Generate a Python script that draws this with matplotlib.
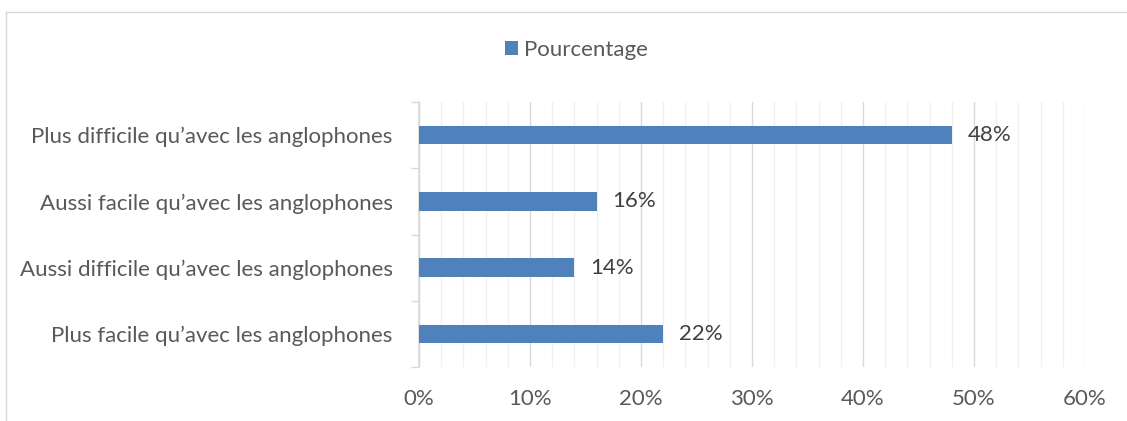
import numpy as np
import matplotlib.pyplot as plt
from matplotlib.lines import Line2D
from matplotlib.ticker import FixedLocator, FuncFormatter

plt.rcParams['font.family'] = ['Lato', 'DejaVu Sans']

categories = ["Plus facile qu\u2019avec les anglophones",
              "Aussi difficile qu\u2019avec les anglophones",
              "Aussi facile qu\u2019avec les anglophones",
              "Plus difficile qu\u2019avec les anglophones"]
pourcentage = [22, 14, 16, 48]
series_name = "Pourcentage"

bar_color = "#4f81bd"
text_color = "#595959"

W, H = 1127, 421
fig = plt.figure(figsize=(W / 100, H / 100), dpi=100)
ax = fig.add_axes([419 / W, 1 - 367 / H, (1085 - 419) / W, (367 - 102) / H])

y = np.arange(len(categories))
bars = ax.barh(y, pourcentage, height=0.28, color=bar_color, zorder=3,
               label=series_name)

# data labels
for yi, v in zip(y, pourcentage):
    ax.text(v + 1.4, yi, f"{v}%", va="center", ha="left",
            fontsize=16, color="#404040")

ax.set_xlim(0, 60)
ax.set_ylim(-0.5, len(categories) - 0.5)

# major and minor vertical gridlines
ax.xaxis.set_major_locator(FixedLocator(np.arange(0, 61, 10)))
ax.xaxis.set_minor_locator(FixedLocator(np.arange(0, 61, 2)))
ax.xaxis.set_major_formatter(FuncFormatter(lambda v, p: f"{v:.0f}%"))
ax.grid(axis="x", which="minor", color="#f0f0f0", lw=1.0, zorder=0)
ax.grid(axis="x", which="major", color="#d9d9d9", lw=1.0, zorder=1)

ax.set_yticks(y)
ax.set_yticklabels(categories)
ax.yaxis.set_minor_locator(FixedLocator(np.arange(-0.5, len(categories), 1)))
ax.tick_params(axis="y", which="major", length=0, pad=19, labelsize=16,
               labelcolor=text_color)
ax.tick_params(axis="y", which="minor", length=6, width=1, color="#d9d9d9")
ax.tick_params(axis="x", which="both", length=0, pad=16, labelsize=16,
               labelcolor=text_color)

for side in ["top", "right", "bottom"]:
    ax.spines[side].set_visible(False)
ax.spines["left"].set_color("#d9d9d9")
ax.spines["left"].set_linewidth(1.2)

leg = fig.legend(handles=[bars], labels=[series_name], loc="center",
                 bbox_to_anchor=(576 / W, 1 - 50 / H), frameon=False,
                 fontsize=16, handlelength=0.6, handleheight=0.6,
                 handletextpad=0.25, labelcolor=text_color)

# chart area border (left and top edges)
fig.add_artist(Line2D([6 / W, 6 / W], [0, 1 - 12 / H], color="#d9d9d9",
                      lw=1, transform=fig.transFigure))
fig.add_artist(Line2D([6 / W, 1], [1 - 12 / H, 1 - 12 / H], color="#d9d9d9",
                      lw=1, transform=fig.transFigure))

fig.savefig("out.png", dpi=100)
